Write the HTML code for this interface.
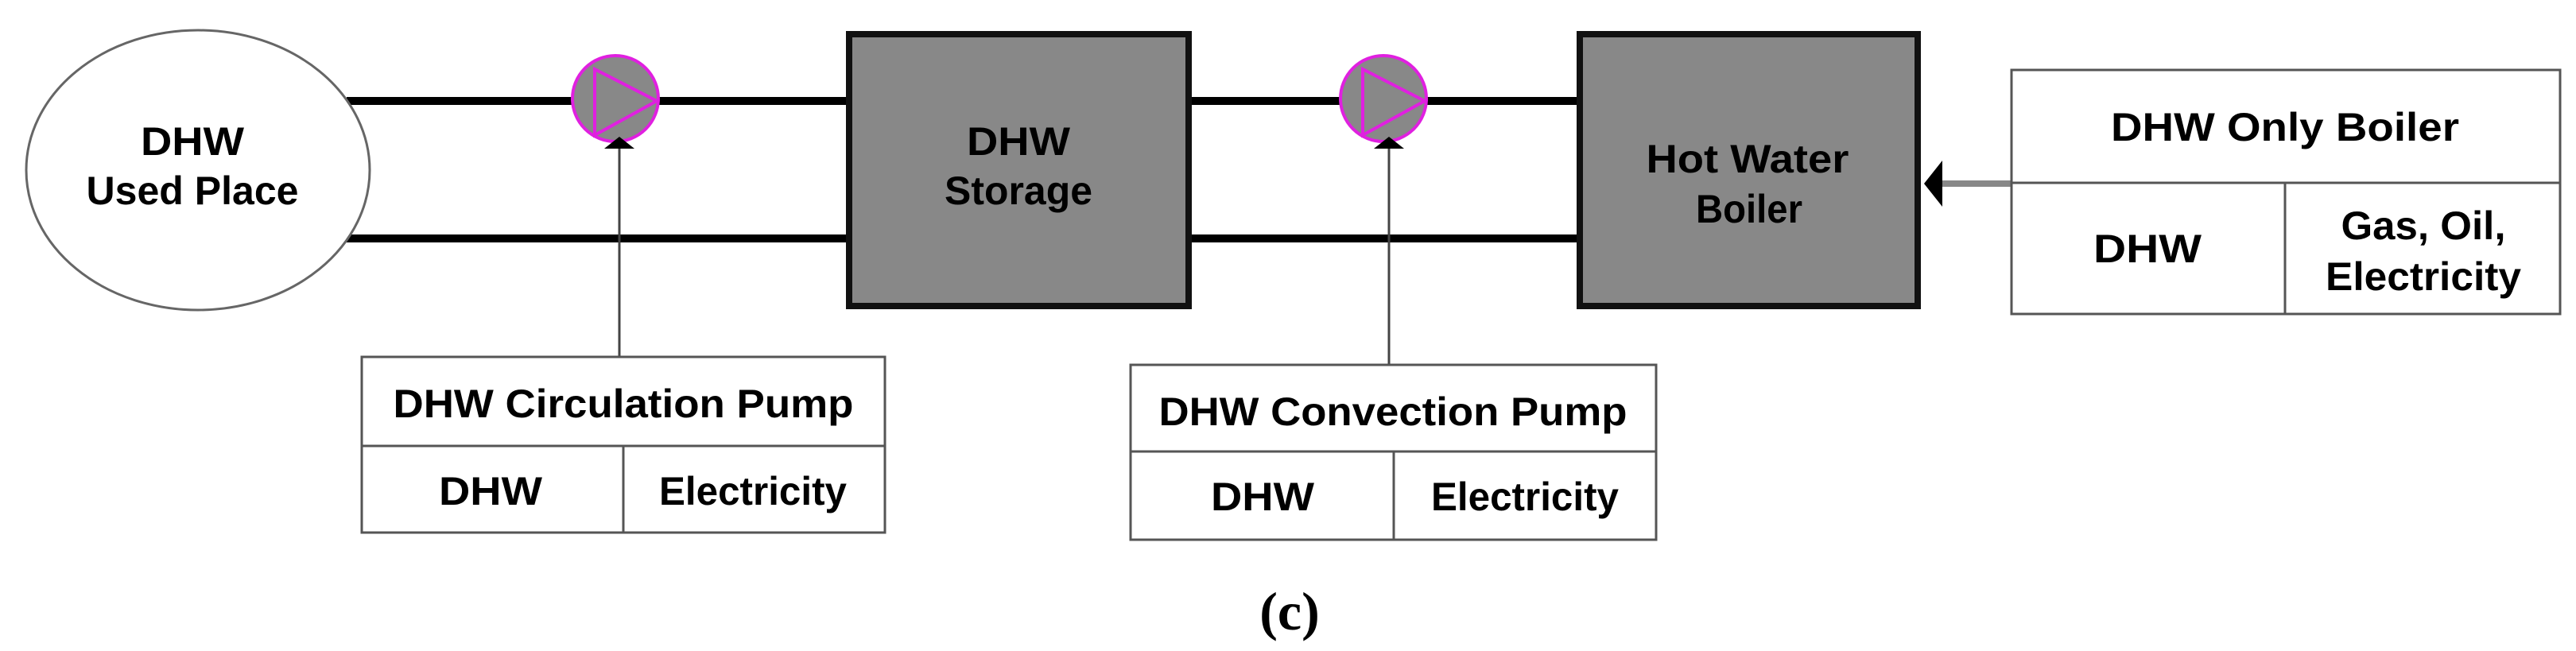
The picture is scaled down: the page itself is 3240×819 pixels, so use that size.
<!DOCTYPE html>
<html><head><meta charset="utf-8"><style>html,body{margin:0;padding:0;background:#fff}svg{display:block}</style></head>
<body>
<svg width="3240" height="819" viewBox="0 0 3240 819" xmlns="http://www.w3.org/2000/svg" font-family="Liberation Sans, sans-serif" font-weight="bold">
<g stroke="#000" stroke-width="10">
<line x1="436" y1="127" x2="1064" y2="127"/>
<line x1="436" y1="300" x2="1064" y2="300"/>
<line x1="1499" y1="127" x2="1983" y2="127"/>
<line x1="1499" y1="300" x2="1983" y2="300"/>
</g>
<ellipse cx="249" cy="214" rx="216" ry="176" fill="#fff" stroke="#666" stroke-width="3"/>
<text x="242" y="195" font-size="50" text-anchor="middle" textLength="130" lengthAdjust="spacingAndGlyphs">DHW</text>
<text x="242" y="257" font-size="50" text-anchor="middle" textLength="267" lengthAdjust="spacingAndGlyphs">Used Place</text>
<rect x="1068" y="43" width="427" height="342" fill="#888" stroke="#111" stroke-width="8"/>
<text x="1281" y="195" font-size="50" text-anchor="middle" textLength="130" lengthAdjust="spacingAndGlyphs">DHW</text>
<text x="1281" y="257" font-size="50" text-anchor="middle" textLength="186" lengthAdjust="spacingAndGlyphs">Storage</text>
<rect x="1987" y="43" width="425" height="342" fill="#888" stroke="#111" stroke-width="8"/>
<text x="2198" y="217" font-size="50" text-anchor="middle" textLength="255" lengthAdjust="spacingAndGlyphs">Hot Water</text>
<text x="2200" y="280" font-size="50" text-anchor="middle" textLength="134" lengthAdjust="spacingAndGlyphs">Boiler</text>
<g fill="#888" stroke="#e020e0" stroke-width="4">
<circle cx="774" cy="124" r="54"/>
<polygon points="748,87 748,170 826,127" fill="none"/>
<circle cx="1740" cy="124" r="54"/>
<polygon points="1714,87 1714,170 1792,127" fill="none"/>
</g>
<g stroke="#444" stroke-width="3">
<line x1="779" y1="449" x2="779" y2="185"/>
<line x1="1747" y1="459" x2="1747" y2="185"/>
</g>
<polygon points="779,172 760,187 798,187" fill="#000"/>
<polygon points="1747,172 1728,187 1766,187" fill="#000"/>
<line x1="2443" y1="231" x2="2530" y2="231" stroke="#888" stroke-width="8"/>
<polygon points="2420,231 2443,202 2443,260" fill="#000"/>
<g fill="none" stroke="#555" stroke-width="3">
<rect x="455" y="449" width="658" height="221"/>
<line x1="455" y1="561" x2="1113" y2="561"/>
<line x1="784" y1="561" x2="784" y2="670"/>
<rect x="1422" y="459" width="661" height="220"/>
<line x1="1422" y1="568" x2="2083" y2="568"/>
<line x1="1753" y1="568" x2="1753" y2="679"/>
<rect x="2530" y="88" width="690" height="307"/>
<line x1="2530" y1="230" x2="3220" y2="230"/>
<line x1="2874" y1="230" x2="2874" y2="395"/>
</g>
<text x="784" y="525" font-size="50" text-anchor="middle" textLength="579" lengthAdjust="spacingAndGlyphs">DHW Circulation Pump</text>
<text x="617" y="635" font-size="50" text-anchor="middle" textLength="130" lengthAdjust="spacingAndGlyphs">DHW</text>
<text x="947" y="635" font-size="50" text-anchor="middle" textLength="236" lengthAdjust="spacingAndGlyphs">Electricity</text>
<text x="1752" y="535" font-size="50" text-anchor="middle" textLength="589" lengthAdjust="spacingAndGlyphs">DHW Convection Pump</text>
<text x="1588" y="642" font-size="50" text-anchor="middle" textLength="130" lengthAdjust="spacingAndGlyphs">DHW</text>
<text x="1918" y="642" font-size="50" text-anchor="middle" textLength="236" lengthAdjust="spacingAndGlyphs">Electricity</text>
<text x="2874" y="177" font-size="50" text-anchor="middle" textLength="438" lengthAdjust="spacingAndGlyphs">DHW Only Boiler</text>
<text x="2701" y="330" font-size="50" text-anchor="middle" textLength="136" lengthAdjust="spacingAndGlyphs">DHW</text>
<text x="3048" y="301" font-size="50" text-anchor="middle" textLength="207" lengthAdjust="spacingAndGlyphs">Gas, Oil,</text>
<text x="3048" y="365" font-size="50" text-anchor="middle" textLength="246" lengthAdjust="spacingAndGlyphs">Electricity</text>
<text x="1622" y="792" font-size="68" text-anchor="middle" font-family="Liberation Serif, serif" font-weight="bold">(c)</text>
</svg>
</body></html>
